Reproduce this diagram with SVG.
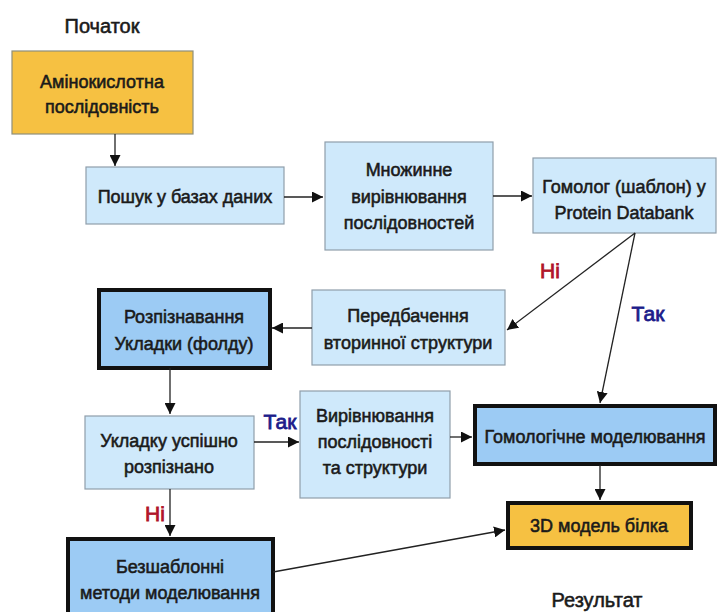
<svg xmlns="http://www.w3.org/2000/svg" width="718" height="612" viewBox="0 0 718 612">
<style>
text{font-family:"Liberation Sans",Arial,sans-serif;font-size:18px;fill:#1a1a1a;stroke:#1a1a1a;stroke-width:0.55;text-anchor:middle}
.light{fill:#cfe9fb;stroke:#8f9eab;stroke-width:1.2}
.gold{fill:#f6c142;stroke:#8f8f7a;stroke-width:1.2}
.goldb{fill:#f6c142;stroke:#111;stroke-width:4}
.blue{fill:#9ccbf4;stroke:#111;stroke-width:4}
.ln{stroke:#222;stroke-width:1.3;fill:none;marker-end:url(#ah)}
text.no{fill:#b0162a;stroke:#b0162a;font-size:21px;stroke-width:0.8}
text.yes{fill:#1c1c8a;stroke:#1c1c8a;font-size:21px;stroke-width:0.8}
</style>
<defs>
<marker id="ah" viewBox="0 0 10 10" refX="10" refY="5" markerWidth="11" markerHeight="11" markerUnits="userSpaceOnUse" orient="auto">
<path d="M0,0 L10,5 L0,10 z" fill="#111"/>
</marker>
</defs>
<rect width="718" height="612" fill="#fff"/>
<text x="102" y="33" style="font-size:20px">Початок</text>
<text x="597" y="607" style="font-size:20px">Результат</text>
<g id="amino"><rect class="gold" x="12" y="51" width="181" height="83"/><text x="102" y="88">Амінокислотна</text><text x="102" y="113">послідовність</text></g>
<g id="search"><rect class="light" x="86" y="167" width="198" height="57"/><text x="185" y="203">Пошук у базах даних</text></g>
<g id="msa"><rect class="light" x="325" y="142" width="168" height="108"/><text x="409" y="176">Множинне</text><text x="409" y="203">вирівнювання</text><text x="409" y="229">послідовностей</text></g>
<g id="homolog"><rect class="light" x="533" y="158" width="183" height="75"/><text x="624" y="193">Гомолог (шаблон) у</text><text x="624" y="219">Protein Databank</text></g>
<g id="ss"><rect class="light" x="312" y="290" width="193" height="75"/><text x="408" y="322">Передбачення</text><text x="408" y="349">вторинної структури</text></g>
<g id="fold"><rect class="blue" x="99" y="290" width="171" height="78"/><text x="184" y="323">Розпізнавання</text><text x="184" y="350">Укладки (фолду)</text></g>
<g id="ok"><rect class="light" x="85" y="416" width="169" height="73"/><text x="169" y="447">Укладку успішно</text><text x="169" y="473">розпізнано</text></g>
<g id="align"><rect class="light" x="300" y="391" width="150" height="107"/><text x="375" y="422">Вирівнювання</text><text x="375" y="448">послідовності</text><text x="375" y="474">та структури</text></g>
<g id="hommod"><rect class="blue" x="475" y="406" width="240" height="58"/><text x="595" y="443">Гомологічне моделювання</text></g>
<g id="model3d"><rect class="goldb" x="508" y="503" width="183" height="45"/><text x="599" y="532">3D модель білка</text></g>
<g id="freemod"><rect class="blue" x="68" y="539" width="205" height="75"/><text x="170" y="573">Безшаблонні</text><text x="170" y="599">методи моделювання</text></g>
<g id="connectors">
<line class="ln" x1="115" y1="134" x2="115" y2="166"/>
<line class="ln" x1="284" y1="197" x2="323" y2="197"/>
<line class="ln" x1="493" y1="196" x2="532" y2="196"/>
<line class="ln" x1="635" y1="233" x2="507" y2="330"/>
<line class="ln" x1="635" y1="233" x2="600" y2="403"/>
<line class="ln" x1="312" y1="328" x2="272" y2="328"/>
<line class="ln" x1="170" y1="368" x2="170" y2="414"/>
<line class="ln" x1="254" y1="442" x2="299" y2="442"/>
<line class="ln" x1="450" y1="437" x2="472" y2="437"/>
<line class="ln" x1="600" y1="465" x2="600" y2="500"/>
<line class="ln" x1="170" y1="489" x2="170" y2="536"/>
<line class="ln" x1="273" y1="572" x2="505" y2="530"/>
<text class="no" x="550" y="278">Ні</text>
<text class="yes" x="648" y="321">Так</text>
<text class="yes" x="280" y="429">Так</text>
<text class="no" x="155" y="521">Ні</text>
</g>
</svg>
